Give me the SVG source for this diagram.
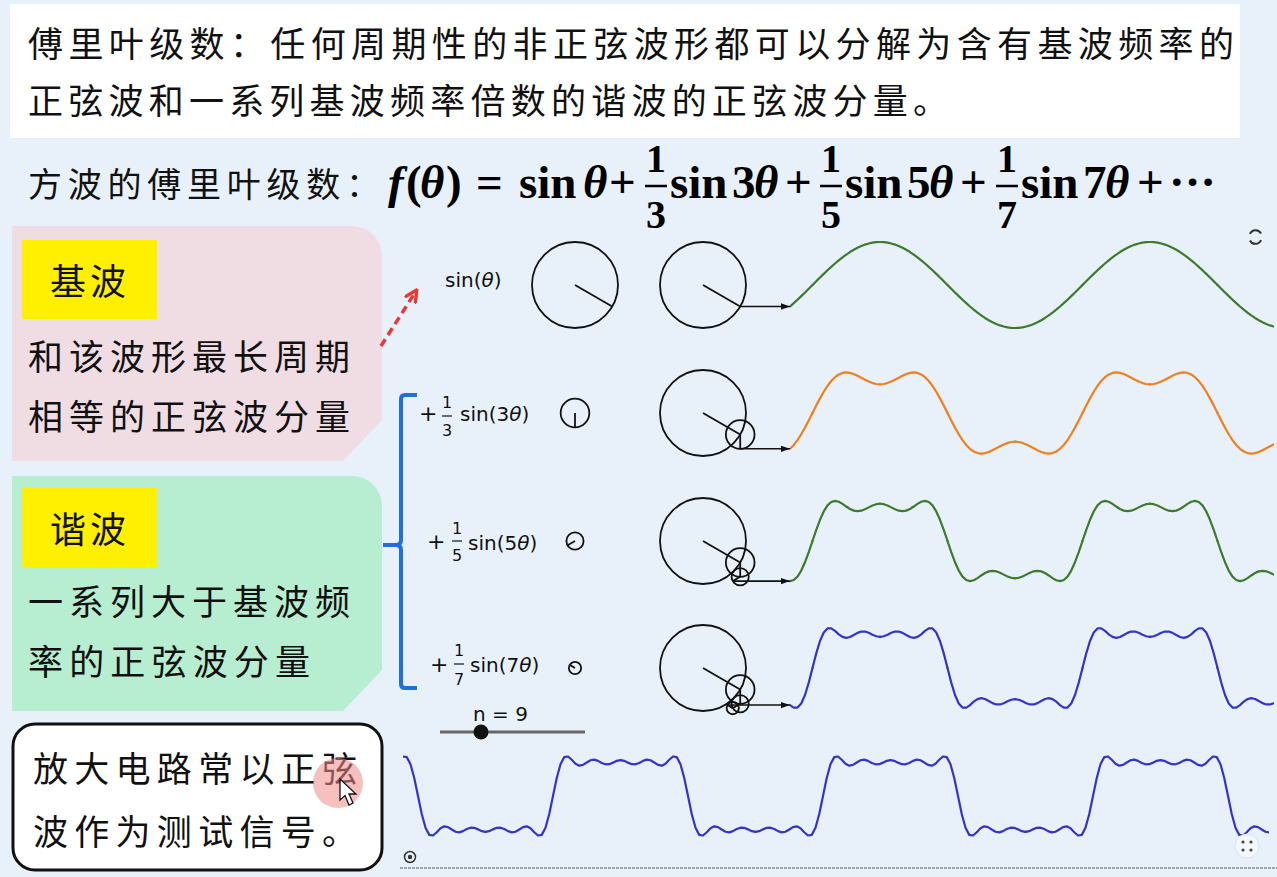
<svg xmlns="http://www.w3.org/2000/svg" width="1277" height="877" viewBox="0 0 1277 877">
<style>
.cjk{font-family:"Noto Sans CJK SC","Noto Sans",sans-serif;fill:#111}
.lbl{font-family:"DejaVu Sans",sans-serif;fill:#111}
.math{font-family:"Liberation Serif",serif;font-weight:bold;fill:#000}
.circ{fill:none;stroke:#111;stroke-width:1.8}
.rad{stroke:#111;stroke-width:1.8;fill:none}
.arr{stroke:#111;stroke-width:1.6;fill:none}
.wave{fill:none;stroke-width:2.2;stroke-linejoin:round;stroke-linecap:round}
</style>
<defs>
<marker id="ah" viewBox="0 0 10 10" refX="10" refY="5" markerWidth="9" markerHeight="9" markerUnits="userSpaceOnUse" orient="auto"><path d="M0,1.5 L10,5 L0,8.5z" fill="#111"/></marker>
<marker id="rah" viewBox="0 0 10 10" refX="8" refY="5" markerWidth="14" markerHeight="14" markerUnits="userSpaceOnUse" orient="auto"><path d="M0,0.5 L9,5 L0,9.5" fill="none" stroke="#e53935" stroke-width="2.4"/></marker>
<clipPath id="cR"><rect x="790" y="200" width="484" height="540"/></clipPath>
<clipPath id="cB"><rect x="403" y="740" width="866" height="110"/></clipPath>
<path id="q1" d="M0,0 L3.75,-3.75 7.5,-7.46 11.25,-11.13 15,-14.71 18.75,-18.17 22.5,-21.5 26.25,-24.66 30,-27.64 33.75,-30.41 37.5,-32.94 41.25,-35.23 45,-37.24 48.75,-38.97 52.5,-40.41 56.25,-41.53 60,-42.35 63.75,-42.84 67.5,-43"/>
<path id="q3" d="M0,0 L3.75,-7.46 7.5,-14.63 11.25,-21.26 15,-27.12 18.75,-32.02 22.5,-35.83 26.25,-38.51 30,-40.05 33.75,-40.54 37.5,-40.11 41.25,-38.94 45,-37.24 48.75,-35.26 52.5,-33.24 56.25,-31.4 60,-29.93 63.75,-28.99 67.5,-28.67"/>
<path id="q5" d="M0,0 L3.75,-11.09 7.5,-21.22 11.25,-29.57 15,-35.59 18.75,-39.06 22.5,-40.13 26.25,-39.26 30,-37.11 33.75,-34.46 37.5,-32.03 41.25,-30.37 45,-29.79 48.75,-30.33 52.5,-31.75 56.25,-33.63 60,-35.46 63.75,-36.79 67.5,-37.27"/>
<path id="q7" d="M0,0 L3.75,-14.62 7.5,-26.99 11.25,-35.51 15,-39.54 18.75,-39.6 22.5,-37.06 26.25,-33.69 30,-31.06 33.75,-30.12 37.5,-30.96 41.25,-32.97 45,-35.11 48.75,-36.45 52.5,-36.45 56.25,-35.22 60,-33.36 63.75,-31.76 67.5,-31.12"/>
<path id="q9" d="M0,0 L3.75,-18 7.5,-31.77 11.25,-38.88 15,-39.54 18.75,-36.22 22.5,-32.28 26.25,-30.31 30,-31.06 33.75,-33.5 37.5,-35.74 41.25,-36.35 45,-35.11 48.75,-33.07 52.5,-31.67 56.25,-31.84 60,-33.36 63.75,-35.14 67.5,-35.9"/>
<g id="P1"><use href="#q1"/><use href="#q1" transform="matrix(-1 0 0 1 135 0)"/><use href="#q1" transform="matrix(1 0 0 -1 135 0)"/><use href="#q1" transform="matrix(-1 0 0 -1 270 0)"/></g>
<g id="P3"><use href="#q3"/><use href="#q3" transform="matrix(-1 0 0 1 135 0)"/><use href="#q3" transform="matrix(1 0 0 -1 135 0)"/><use href="#q3" transform="matrix(-1 0 0 -1 270 0)"/></g>
<g id="P5"><use href="#q5"/><use href="#q5" transform="matrix(-1 0 0 1 135 0)"/><use href="#q5" transform="matrix(1 0 0 -1 135 0)"/><use href="#q5" transform="matrix(-1 0 0 -1 270 0)"/></g>
<g id="P7"><use href="#q7"/><use href="#q7" transform="matrix(-1 0 0 1 135 0)"/><use href="#q7" transform="matrix(1 0 0 -1 135 0)"/><use href="#q7" transform="matrix(-1 0 0 -1 270 0)"/></g>
<g id="P9"><use href="#q9"/><use href="#q9" transform="matrix(-1 0 0 1 135 0)"/><use href="#q9" transform="matrix(1 0 0 -1 135 0)"/><use href="#q9" transform="matrix(-1 0 0 -1 270 0)"/></g>
</defs>

<rect x="0" y="0" width="1277" height="877" fill="#e8f1f9"/>

<g id="title">
<rect x="10" y="4" width="1230" height="134" fill="#ffffff"/>
<text class="cjk" x="28" y="57" font-size="35" textLength="1206" lengthAdjust="spacing">傅里叶级数：任何周期性的非正弦波形都可以分解为含有基波频率的</text>
<text class="cjk" x="28" y="114" font-size="35" textLength="920" lengthAdjust="spacing">正弦波和一系列基波频率倍数的谐波的正弦波分量。</text>
</g>

<g id="formula">
<text class="cjk" x="28" y="197" font-size="34" textLength="352" lengthAdjust="spacing">方波的傅里叶级数：</text>
<text class="math" y="198" font-size="47"><tspan x="388" font-style="italic">f</tspan><tspan x="406">(</tspan><tspan x="420" font-style="italic">θ</tspan><tspan x="446">)</tspan><tspan x="476">=</tspan><tspan x="519">sin</tspan><tspan x="583" font-style="italic">θ</tspan><tspan x="609">+</tspan><tspan x="670">sin</tspan><tspan x="732">3</tspan><tspan x="754" font-style="italic">θ</tspan><tspan x="785">+</tspan><tspan x="845">sin</tspan><tspan x="907">5</tspan><tspan x="929" font-style="italic">θ</tspan><tspan x="960">+</tspan><tspan x="1021">sin</tspan><tspan x="1083">7</tspan><tspan x="1105" font-style="italic">θ</tspan><tspan x="1137">+</tspan><tspan x="1169">···</tspan></text>
<g class="math" font-size="40" text-anchor="middle">
<text x="656" y="172">1</text><text x="656" y="228">3</text>
<text x="831" y="172">1</text><text x="831" y="228">5</text>
<text x="1007" y="172">1</text><text x="1007" y="228">7</text>
</g>
<g stroke="#000" stroke-width="2.5">
<line x1="645" y1="186" x2="667" y2="186"/>
<line x1="820" y1="186" x2="842" y2="186"/>
<line x1="996" y1="186" x2="1018" y2="186"/>
</g>
</g>

<g id="fundamental">
<path d="M12,226 H352 A30,30 0 0 1 382,256 V420 L343,461 H12 Z" fill="#f0dde4"/>
<rect x="22" y="240" width="135" height="79" fill="#fff000"/>
<text class="cjk" x="50" y="295" font-size="36" letter-spacing="4">基波</text>
<text class="cjk" x="28" y="370" font-size="35" textLength="322" lengthAdjust="spacing">和该波形最长周期</text>
<text class="cjk" x="28" y="430" font-size="35" textLength="322" lengthAdjust="spacing">相等的正弦波分量</text>
</g>

<g id="harmonic">
<path d="M12,476 H352 A30,30 0 0 1 382,506 V670 L343,711 H12 Z" fill="#b7edd0"/>
<rect x="22" y="488" width="135" height="79" fill="#fff000"/>
<text class="cjk" x="50" y="543" font-size="36" letter-spacing="4">谐波</text>
<text class="cjk" x="28" y="615" font-size="35" textLength="322" lengthAdjust="spacing">一系列大于基波频</text>
<text class="cjk" x="28" y="675" font-size="35" textLength="282" lengthAdjust="spacing">率的正弦波分量</text>
</g>

<g id="note">
<rect x="13" y="724" width="369" height="146" rx="22" fill="#ffffff" stroke="#111" stroke-width="3"/>
<text class="cjk" x="33" y="782" font-size="35" textLength="324" lengthAdjust="spacing">放大电路常以正弦</text>
<text class="cjk" x="33" y="845" font-size="35" textLength="324" lengthAdjust="spacing">波作为测试信号。</text>
<circle cx="338" cy="783" r="25" fill="#f08a88" fill-opacity="0.55"/>
<path d="M340,779 L340,800 L345,795.5 L349,805 L353,803 L349,794 L356,794 Z" fill="#fff" stroke="#111" stroke-width="1.3"/>
</g>

<g id="connectors">
<line x1="381" y1="346" x2="416" y2="291" stroke="#e53935" stroke-width="3.5" stroke-dasharray="8,5" marker-end="url(#rah)"/>
<path d="M417,395 H405 Q401,395 401,399 V540 Q401,545 396,545 H383 M396,545 Q401,545 401,550 V684 Q401,688 405,688 H417" fill="none" stroke="#1e6fe0" stroke-width="4"/>
</g>

<g id="row1">
<text class="lbl" x="445" y="287" font-size="20">sin(<tspan font-style="italic">θ</tspan>)</text>
<circle class="circ" cx="575" cy="285" r="43"/>
<line class="rad" x1="575" y1="285" x2="612.2" y2="306.5"/>
<circle class="circ" cx="703" cy="285" r="43"/>
<line class="rad" x1="703" y1="285" x2="740.2" y2="306.5"/>
<line class="arr" x1="740.2" y1="306.5" x2="790" y2="306.5" marker-end="url(#ah)"/>
<g clip-path="url(#cR)"><g class="wave" stroke="#3d7a2e">
<use href="#P1" transform="translate(542.5,285)"/><use href="#P1" transform="translate(812.5,285)"/><use href="#P1" transform="translate(1082.5,285)"/>
</g></g>
</g>

<g id="row2">
<text class="lbl" x="419" y="421" font-size="22">+</text>
<text class="lbl" x="447" y="408" font-size="16" text-anchor="middle">1</text>
<text class="lbl" x="447" y="436" font-size="16" text-anchor="middle">3</text>
<line x1="442" y1="416" x2="452" y2="416" stroke="#111" stroke-width="1.2"/>
<text class="lbl" x="460" y="421" font-size="20">sin(3<tspan font-style="italic">θ</tspan>)</text>
<circle class="circ" cx="575" cy="413" r="14.33"/>
<line class="rad" x1="575" y1="413" x2="575" y2="427.3"/>
<circle class="circ" cx="703" cy="413" r="43"/>
<line class="rad" x1="703" y1="413" x2="740.2" y2="434.5"/>
<circle class="circ" cx="740.2" cy="434.5" r="14.33"/>
<line class="rad" x1="740.2" y1="434.5" x2="740.2" y2="448.8"/>
<line class="arr" x1="740.2" y1="448.8" x2="790" y2="448.8" marker-end="url(#ah)"/>
<g clip-path="url(#cR)"><g class="wave" stroke="#f07f1e">
<use href="#P3" transform="translate(542.5,413)"/><use href="#P3" transform="translate(812.5,413)"/><use href="#P3" transform="translate(1082.5,413)"/>
</g></g>
</g>

<g id="row3">
<text class="lbl" x="427" y="549" font-size="22">+</text>
<text class="lbl" x="457" y="534" font-size="16" text-anchor="middle">1</text>
<text class="lbl" x="457" y="561" font-size="16" text-anchor="middle">5</text>
<line x1="452" y1="541" x2="462" y2="541" stroke="#111" stroke-width="1.2"/>
<text class="lbl" x="468" y="550" font-size="20">sin(5<tspan font-style="italic">θ</tspan>)</text>
<circle class="circ" cx="575" cy="541" r="8.6"/>
<line class="rad" x1="575" y1="541" x2="567.55" y2="545.3"/>
<circle class="circ" cx="703" cy="541" r="43"/>
<line class="rad" x1="703" y1="541" x2="740.2" y2="562.5"/>
<circle class="circ" cx="740.2" cy="562.5" r="14.33"/>
<line class="rad" x1="740.2" y1="562.5" x2="740.2" y2="576.8"/>
<circle class="circ" cx="740.2" cy="576.8" r="8.6"/>
<line class="rad" x1="740.2" y1="576.8" x2="732.75" y2="581.1"/>
<line class="arr" x1="732.75" y1="581.1" x2="790" y2="581.1" marker-end="url(#ah)"/>
<g clip-path="url(#cR)"><g class="wave" stroke="#3d7a2e">
<use href="#P5" transform="translate(542.5,541)"/><use href="#P5" transform="translate(812.5,541)"/><use href="#P5" transform="translate(1082.5,541)"/>
</g></g>
</g>

<g id="row4">
<text class="lbl" x="430" y="672" font-size="22">+</text>
<text class="lbl" x="459" y="656" font-size="16" text-anchor="middle">1</text>
<text class="lbl" x="459" y="685" font-size="16" text-anchor="middle">7</text>
<line x1="454" y1="664" x2="464" y2="664" stroke="#111" stroke-width="1.2"/>
<text class="lbl" x="470" y="672" font-size="20">sin(7<tspan font-style="italic">θ</tspan>)</text>
<circle class="circ" cx="575" cy="668" r="6.14"/>
<line class="rad" x1="575" y1="668" x2="569.7" y2="664.9"/>
<circle class="circ" cx="703" cy="668" r="43"/>
<line class="rad" x1="703" y1="668" x2="740.2" y2="689.5"/>
<circle class="circ" cx="740.2" cy="689.5" r="14.33"/>
<line class="rad" x1="740.2" y1="689.5" x2="740.2" y2="703.8"/>
<circle class="circ" cx="740.2" cy="703.8" r="8.6"/>
<line class="rad" x1="740.2" y1="703.8" x2="732.75" y2="708.1"/>
<circle class="circ" cx="732.75" cy="708.1" r="6.14"/>
<line class="rad" x1="732.75" y1="708.1" x2="727.4" y2="705.05"/>
<line class="arr" x1="727.4" y1="705.05" x2="790" y2="705.05" marker-end="url(#ah)"/>
<g clip-path="url(#cR)"><g class="wave" stroke="#3434c8">
<use href="#P7" transform="translate(542.5,668)"/><use href="#P7" transform="translate(812.5,668)"/><use href="#P7" transform="translate(1082.5,668)"/>
</g></g>
</g>

<g id="slider">
<text class="lbl" x="473" y="721" font-size="20">n = 9</text>
<line x1="440" y1="732" x2="585" y2="732" stroke="#666" stroke-width="3"/>
<circle cx="481" cy="732" r="7.5" fill="#111"/>
</g>

<g id="sum">
<g clip-path="url(#cB)"><g class="wave" stroke="#3434c8">
<use href="#P9" transform="translate(283,796)"/><use href="#P9" transform="translate(553,796)"/><use href="#P9" transform="translate(823,796)"/><use href="#P9" transform="translate(1093,796)"/>
</g></g>
</g>

<g id="icons">
<path d="M1250,234 A6,6 0 0 1 1261,233.5 M1261,240 A6,6 0 0 1 1250,240.5" fill="none" stroke="#333" stroke-width="2"/>
<circle cx="1247" cy="846" r="12" fill="#f4f7f9" stroke="#dde3e6"/>
<g fill="#444"><circle cx="1243" cy="842" r="1.6"/><circle cx="1251" cy="842" r="1.6"/><circle cx="1243" cy="850" r="1.6"/><circle cx="1251" cy="850" r="1.6"/></g>
<circle cx="410" cy="857" r="5.5" fill="none" stroke="#333" stroke-width="1.5"/>
<circle cx="410" cy="857" r="2.2" fill="#333"/>
<line x1="400" y1="868" x2="1277" y2="868" stroke="#8a8a8a" stroke-width="1.5" stroke-dasharray="3,1"/>
</g>
</svg>
